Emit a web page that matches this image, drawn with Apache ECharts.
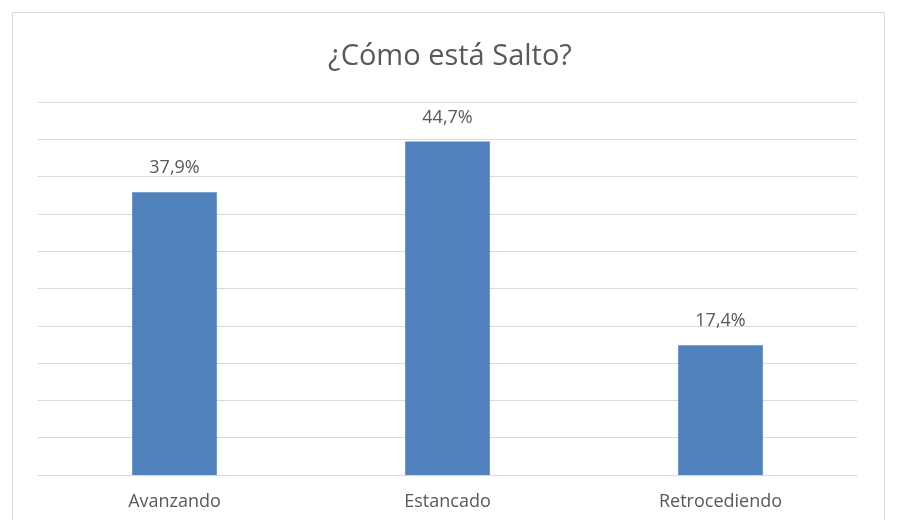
<!DOCTYPE html>
<html><head><meta charset="utf-8">
<script src="https://cdn.jsdelivr.net/npm/echarts@6/dist/echarts.min.js"></script>
<style>html,body{margin:0;padding:0;background:#fff}#c{width:900px;height:520px}</style>
</head><body><div id="c"></div>
<script>
const categories = ['Avanzando', 'Estancado', 'Retrocediendo'];
const values = [37.9, 44.7, 17.4];
const labels = ['37,9%', '44,7%', '17,4%'];

const chart = echarts.init(document.getElementById('c'));
chart.setOption({
  backgroundColor: '#fff',
  animation: false,
  title: {
    text: '¿Cómo está Salto?',
    left: 'center', top: 37,
    textStyle: { fontFamily: 'Open Sans', fontSize: 29, fontWeight: 'normal', color: '#595959' }
  },
  graphic: [{
    type: 'rect', shape: { x: 12.5, y: 12.5, width: 872, height: 520 },
    style: { fill: 'none', stroke: '#d9d9d9', lineWidth: 1 }, silent: true, z: -1
  }],
  grid: { left: 38, right: 43, top: 102, bottom: 45, containLabel: false },
  xAxis: {
    type: 'category', data: categories,
    axisLine: { lineStyle: { color: '#d9d9d9' } },
    axisTick: { show: false },
    axisLabel: { fontFamily: 'Open Sans', fontSize: 18, color: '#595959', margin: 18 }
  },
  yAxis: {
    type: 'value', min: 0, max: 50, interval: 5,
    axisLabel: { show: false }, axisLine: { show: false }, axisTick: { show: false },
    splitLine: { lineStyle: { color: '#d9d9d9', width: 1 } }
  },
  series: [{
    type: 'bar', data: values, barWidth: '31%',
    itemStyle: { color: '#4f81bd' },
    label: {
      show: true, position: 'top', distance: 15,
      fontFamily: 'Open Sans', fontSize: 18, color: '#595959',
      formatter: p => labels[p.dataIndex]
    }
  }]
});
</script></body></html>
